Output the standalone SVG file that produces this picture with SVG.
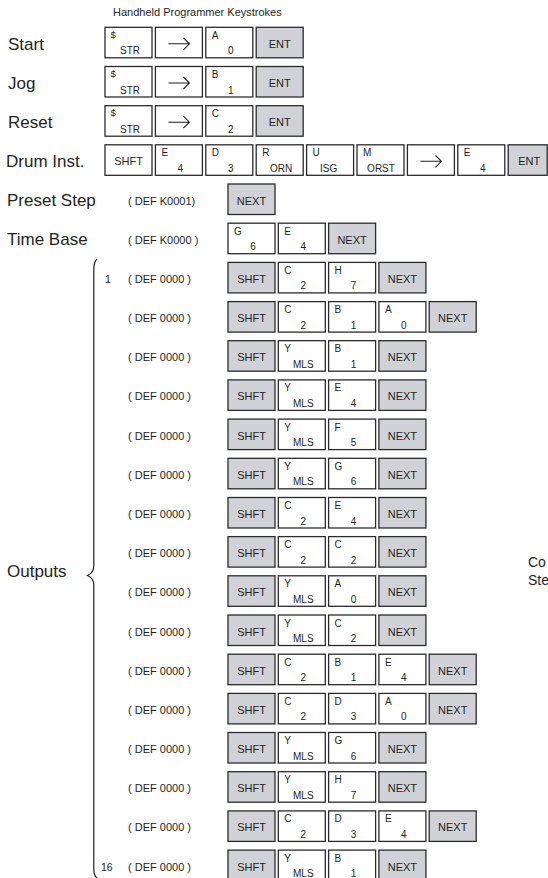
<svg xmlns="http://www.w3.org/2000/svg" width="548" height="878" viewBox="0 0 548 878">
<style>
text{font-family:"Liberation Sans",Arial,sans-serif;fill:#231f20}
.kw{fill:#ffffff;stroke:#2b2b2b;stroke-width:1.3}
.kg{fill:#d0d2d7;stroke:#2b2b2b;stroke-width:1.3}
.c{font-size:11px;text-anchor:middle}
.l{font-size:10px}
.d{font-size:10px;text-anchor:middle}
.s{font-size:9.5px}
.lab{font-size:17px}
.def{font-size:11px}
.num{font-size:10.5px}
.arr{fill:none;stroke:#231f20;stroke-width:1.1}
.brace{fill:none;stroke:#231f20;stroke-width:1.2}
</style>
<text x="113" y="16" style="font-size:11px">Handheld Programmer Keystrokes</text>

<g id="labels">
<text class="lab" x="8" y="49.5">Start</text>
<text class="lab" x="8" y="88.5">Jog</text>
<text class="lab" x="8" y="127.7">Reset</text>
<text class="lab" x="6" y="166.8">Drum Inst.</text>
<text class="lab" x="7" y="206">Preset Step</text>
<text class="lab" x="7" y="245.2">Time Base</text>
<text class="lab" x="7" y="577">Outputs</text>
<text x="528" y="567" style="font-size:14px">Co</text>
<text x="528" y="585" style="font-size:14px">Ste</text>
</g>

<g id="brace"><path class="brace" d="M97,259 C94.5,261 93.8,264 93.8,270 L93.8,566 C93.8,571 91,574 87.5,575.5 C91,577 93.8,580 93.8,585 L93.8,870 C93.8,874 94.5,876 97,878"/></g>
<g id="connectors"></g>

<!-- Start -->
<g id="start">
<g id="start-k1" transform="translate(105,27.3)"><rect class="kw" width="47" height="30.5"/><text class="s" x="5.5" y="10.5">$</text><text class="d" x="25" y="27">STR</text></g>
<g id="start-k2" transform="translate(155.4,27.3)"><rect class="kw" width="47" height="30.5"/><path class="arr" d="M13,16.5 H34 M28,10.5 L34,16.5 L28,22.5"/></g>
<g id="start-k3" transform="translate(205.8,27.3)"><rect class="kw" width="47" height="30.5"/><text class="l" x="6" y="11.5">A</text><text class="d" x="25" y="27">0</text></g>
<g id="start-k4" transform="translate(256.2,27.3)"><rect class="kg" width="47" height="30.5"/><text class="c" x="23.5" y="20.5">ENT</text></g>
</g>
<!-- Jog -->
<g id="jog">
<g id="jog-k1" transform="translate(105,66.5)"><rect class="kw" width="47" height="30.5"/><text class="s" x="5.5" y="10.5">$</text><text class="d" x="25" y="27">STR</text></g>
<g id="jog-k2" transform="translate(155.4,66.5)"><rect class="kw" width="47" height="30.5"/><path class="arr" d="M13,16.5 H34 M28,10.5 L34,16.5 L28,22.5"/></g>
<g id="jog-k3" transform="translate(205.8,66.5)"><rect class="kw" width="47" height="30.5"/><text class="l" x="6" y="11.5">B</text><text class="d" x="25" y="27">1</text></g>
<g id="jog-k4" transform="translate(256.2,66.5)"><rect class="kg" width="47" height="30.5"/><text class="c" x="23.5" y="20.5">ENT</text></g>
</g>
<!-- Reset -->
<g id="reset">
<g id="reset-k1" transform="translate(105,105.7)"><rect class="kw" width="47" height="30.5"/><text class="s" x="5.5" y="10.5">$</text><text class="d" x="25" y="27">STR</text></g>
<g id="reset-k2" transform="translate(155.4,105.7)"><rect class="kw" width="47" height="30.5"/><path class="arr" d="M13,16.5 H34 M28,10.5 L34,16.5 L28,22.5"/></g>
<g id="reset-k3" transform="translate(205.8,105.7)"><rect class="kw" width="47" height="30.5"/><text class="l" x="6" y="11.5">C</text><text class="d" x="25" y="27">2</text></g>
<g id="reset-k4" transform="translate(256.2,105.7)"><rect class="kg" width="47" height="30.5"/><text class="c" x="23.5" y="20.5">ENT</text></g>
</g>
<!-- Drum Inst -->
<g id="drum">
<g id="drum-k1" transform="translate(105,144.8)"><rect class="kw" width="47" height="30.5"/><text class="c" x="23.5" y="20.5">SHFT</text></g>
<g id="drum-k2" transform="translate(155.4,144.8)"><rect class="kw" width="47" height="30.5"/><text class="l" x="6" y="11.5">E</text><text class="d" x="25" y="27">4</text></g>
<g id="drum-k3" transform="translate(205.8,144.8)"><rect class="kw" width="47" height="30.5"/><text class="l" x="6" y="11.5">D</text><text class="d" x="25" y="27">3</text></g>
<g id="drum-k4" transform="translate(256.2,144.8)"><rect class="kw" width="47" height="30.5"/><text class="l" x="6" y="11.5">R</text><text class="d" x="25" y="27">ORN</text></g>
<g id="drum-k5" transform="translate(306.6,144.8)"><rect class="kw" width="47" height="30.5"/><text class="l" x="6" y="11.5">U</text><text class="d" x="22" y="27">ISG</text></g>
<g id="drum-k6" transform="translate(357,144.8)"><rect class="kw" width="47" height="30.5"/><text class="l" x="6" y="11.5">M</text><text class="d" x="24" y="27">ORST</text></g>
<g id="drum-k7" transform="translate(407.4,144.8)"><rect class="kw" width="47" height="30.5"/><path class="arr" d="M13,16.5 H34 M28,10.5 L34,16.5 L28,22.5"/></g>
<g id="drum-k8" transform="translate(457.8,144.8)"><rect class="kw" width="47" height="30.5"/><text class="l" x="6" y="11.5">E</text><text class="d" x="25" y="27">4</text></g>
<g id="drum-k9" transform="translate(508.2,144.8)"><rect class="kg" width="39" height="30.5"/><text class="c" x="21" y="20.5">ENT</text></g>
</g>
<!-- Preset Step -->
<g id="preset">
<text class="def" x="128" y="204.5">( DEF K0001)</text>
<g id="preset-k1" transform="translate(228,184)"><rect class="kg" width="47" height="30.5"/><text class="c" x="23.5" y="20.5">NEXT</text></g>
</g>
<!-- Time Base -->
<g id="timebase">
<text class="def" x="128" y="243.7">( DEF K0000 )</text>
<g id="tb-k1" transform="translate(228,223.2)"><rect class="kw" width="47" height="30.5"/><text class="l" x="6" y="11.5">G</text><text class="d" x="25" y="27">6</text></g>
<g id="tb-k2" transform="translate(278.3,223.2)"><rect class="kw" width="47" height="30.5"/><text class="l" x="6" y="11.5">E</text><text class="d" x="25" y="27">4</text></g>
<g id="tb-k3" transform="translate(328.6,223.2)"><rect class="kg" width="47" height="30.5"/><text class="c" x="23.5" y="20.5">NEXT</text></g>
</g>

<!-- Outputs -->
<g id="out1">
<text class="num" x="105" y="282.5">1</text>
<text class="def" x="128" y="282.9">( DEF 0000 )</text>
<g id="o1-k1" transform="translate(228,262.4)"><rect class="kg" width="47" height="30.5"/><text class="c" x="23.5" y="20.5">SHFT</text></g>
<g id="o1-k2" transform="translate(278.3,262.4)"><rect class="kw" width="47" height="30.5"/><text class="l" x="6" y="11.5">C</text><text class="d" x="25" y="27">2</text></g>
<g id="o1-k3" transform="translate(328.6,262.4)"><rect class="kw" width="47" height="30.5"/><text class="l" x="6" y="11.5">H</text><text class="d" x="25" y="27">7</text></g>
<g id="o1-k4" transform="translate(378.9,262.4)"><rect class="kg" width="47" height="30.5"/><text class="c" x="23.5" y="20.5">NEXT</text></g>
</g>
<g id="out2">
<text class="def" x="128" y="322.1">( DEF 0000 )</text>
<g id="o2-k1" transform="translate(228,301.6)"><rect class="kg" width="47" height="30.5"/><text class="c" x="23.5" y="20.5">SHFT</text></g>
<g id="o2-k2" transform="translate(278.3,301.6)"><rect class="kw" width="47" height="30.5"/><text class="l" x="6" y="11.5">C</text><text class="d" x="25" y="27">2</text></g>
<g id="o2-k3" transform="translate(328.6,301.6)"><rect class="kw" width="47" height="30.5"/><text class="l" x="6" y="11.5">B</text><text class="d" x="25" y="27">1</text></g>
<g id="o2-k4" transform="translate(378.9,301.6)"><rect class="kw" width="47" height="30.5"/><text class="l" x="6" y="11.5">A</text><text class="d" x="25" y="27">0</text></g>
<g id="o2-k5" transform="translate(429.2,301.6)"><rect class="kg" width="47" height="30.5"/><text class="c" x="23.5" y="20.5">NEXT</text></g>
</g>
<g id="out3">
<text class="def" x="128" y="361.2">( DEF 0000 )</text>
<g id="o3-k1" transform="translate(228,340.7)"><rect class="kg" width="47" height="30.5"/><text class="c" x="23.5" y="20.5">SHFT</text></g>
<g id="o3-k2" transform="translate(278.3,340.7)"><rect class="kw" width="47" height="30.5"/><text class="l" x="6" y="11.5">Y</text><text class="d" x="25" y="27">MLS</text></g>
<g id="o3-k3" transform="translate(328.6,340.7)"><rect class="kw" width="47" height="30.5"/><text class="l" x="6" y="11.5">B</text><text class="d" x="25" y="27">1</text></g>
<g id="o3-k4" transform="translate(378.9,340.7)"><rect class="kg" width="47" height="30.5"/><text class="c" x="23.5" y="20.5">NEXT</text></g>
</g>
<g id="out4">
<text class="def" x="128" y="400.4">( DEF 0000 )</text>
<g id="o4-k1" transform="translate(228,379.9)"><rect class="kg" width="47" height="30.5"/><text class="c" x="23.5" y="20.5">SHFT</text></g>
<g id="o4-k2" transform="translate(278.3,379.9)"><rect class="kw" width="47" height="30.5"/><text class="l" x="6" y="11.5">Y</text><text class="d" x="25" y="27">MLS</text></g>
<g id="o4-k3" transform="translate(328.6,379.9)"><rect class="kw" width="47" height="30.5"/><text class="l" x="6" y="11.5">E</text><text class="d" x="25" y="27">4</text></g>
<g id="o4-k4" transform="translate(378.9,379.9)"><rect class="kg" width="47" height="30.5"/><text class="c" x="23.5" y="20.5">NEXT</text></g>
</g>
<g id="out5">
<text class="def" x="128" y="439.6">( DEF 0000 )</text>
<g id="o5-k1" transform="translate(228,419.1)"><rect class="kg" width="47" height="30.5"/><text class="c" x="23.5" y="20.5">SHFT</text></g>
<g id="o5-k2" transform="translate(278.3,419.1)"><rect class="kw" width="47" height="30.5"/><text class="l" x="6" y="11.5">Y</text><text class="d" x="25" y="27">MLS</text></g>
<g id="o5-k3" transform="translate(328.6,419.1)"><rect class="kw" width="47" height="30.5"/><text class="l" x="6" y="11.5">F</text><text class="d" x="25" y="27">5</text></g>
<g id="o5-k4" transform="translate(378.9,419.1)"><rect class="kg" width="47" height="30.5"/><text class="c" x="23.5" y="20.5">NEXT</text></g>
</g>
<g id="out6">
<text class="def" x="128" y="478.8">( DEF 0000 )</text>
<g id="o6-k1" transform="translate(228,458.3)"><rect class="kg" width="47" height="30.5"/><text class="c" x="23.5" y="20.5">SHFT</text></g>
<g id="o6-k2" transform="translate(278.3,458.3)"><rect class="kw" width="47" height="30.5"/><text class="l" x="6" y="11.5">Y</text><text class="d" x="25" y="27">MLS</text></g>
<g id="o6-k3" transform="translate(328.6,458.3)"><rect class="kw" width="47" height="30.5"/><text class="l" x="6" y="11.5">G</text><text class="d" x="25" y="27">6</text></g>
<g id="o6-k4" transform="translate(378.9,458.3)"><rect class="kg" width="47" height="30.5"/><text class="c" x="23.5" y="20.5">NEXT</text></g>
</g>
<g id="out7">
<text class="def" x="128" y="518">( DEF 0000 )</text>
<g id="o7-k1" transform="translate(228,497.5)"><rect class="kg" width="47" height="30.5"/><text class="c" x="23.5" y="20.5">SHFT</text></g>
<g id="o7-k2" transform="translate(278.3,497.5)"><rect class="kw" width="47" height="30.5"/><text class="l" x="6" y="11.5">C</text><text class="d" x="25" y="27">2</text></g>
<g id="o7-k3" transform="translate(328.6,497.5)"><rect class="kw" width="47" height="30.5"/><text class="l" x="6" y="11.5">E</text><text class="d" x="25" y="27">4</text></g>
<g id="o7-k4" transform="translate(378.9,497.5)"><rect class="kg" width="47" height="30.5"/><text class="c" x="23.5" y="20.5">NEXT</text></g>
</g>
<g id="out8">
<text class="def" x="128" y="557.1">( DEF 0000 )</text>
<g id="o8-k1" transform="translate(228,536.6)"><rect class="kg" width="47" height="30.5"/><text class="c" x="23.5" y="20.5">SHFT</text></g>
<g id="o8-k2" transform="translate(278.3,536.6)"><rect class="kw" width="47" height="30.5"/><text class="l" x="6" y="11.5">C</text><text class="d" x="25" y="27">2</text></g>
<g id="o8-k3" transform="translate(328.6,536.6)"><rect class="kw" width="47" height="30.5"/><text class="l" x="6" y="11.5">C</text><text class="d" x="25" y="27">2</text></g>
<g id="o8-k4" transform="translate(378.9,536.6)"><rect class="kg" width="47" height="30.5"/><text class="c" x="23.5" y="20.5">NEXT</text></g>
</g>
<g id="out9">
<text class="def" x="128" y="596.3">( DEF 0000 )</text>
<g id="o9-k1" transform="translate(228,575.8)"><rect class="kg" width="47" height="30.5"/><text class="c" x="23.5" y="20.5">SHFT</text></g>
<g id="o9-k2" transform="translate(278.3,575.8)"><rect class="kw" width="47" height="30.5"/><text class="l" x="6" y="11.5">Y</text><text class="d" x="25" y="27">MLS</text></g>
<g id="o9-k3" transform="translate(328.6,575.8)"><rect class="kw" width="47" height="30.5"/><text class="l" x="6" y="11.5">A</text><text class="d" x="25" y="27">0</text></g>
<g id="o9-k4" transform="translate(378.9,575.8)"><rect class="kg" width="47" height="30.5"/><text class="c" x="23.5" y="20.5">NEXT</text></g>
</g>
<g id="out10">
<text class="def" x="128" y="635.5">( DEF 0000 )</text>
<g id="o10-k1" transform="translate(228,615)"><rect class="kg" width="47" height="30.5"/><text class="c" x="23.5" y="20.5">SHFT</text></g>
<g id="o10-k2" transform="translate(278.3,615)"><rect class="kw" width="47" height="30.5"/><text class="l" x="6" y="11.5">Y</text><text class="d" x="25" y="27">MLS</text></g>
<g id="o10-k3" transform="translate(328.6,615)"><rect class="kw" width="47" height="30.5"/><text class="l" x="6" y="11.5">C</text><text class="d" x="25" y="27">2</text></g>
<g id="o10-k4" transform="translate(378.9,615)"><rect class="kg" width="47" height="30.5"/><text class="c" x="23.5" y="20.5">NEXT</text></g>
</g>
<g id="out11">
<text class="def" x="128" y="674.7">( DEF 0000 )</text>
<g id="o11-k1" transform="translate(228,654.2)"><rect class="kg" width="47" height="30.5"/><text class="c" x="23.5" y="20.5">SHFT</text></g>
<g id="o11-k2" transform="translate(278.3,654.2)"><rect class="kw" width="47" height="30.5"/><text class="l" x="6" y="11.5">C</text><text class="d" x="25" y="27">2</text></g>
<g id="o11-k3" transform="translate(328.6,654.2)"><rect class="kw" width="47" height="30.5"/><text class="l" x="6" y="11.5">B</text><text class="d" x="25" y="27">1</text></g>
<g id="o11-k4" transform="translate(378.9,654.2)"><rect class="kw" width="47" height="30.5"/><text class="l" x="6" y="11.5">E</text><text class="d" x="25" y="27">4</text></g>
<g id="o11-k5" transform="translate(429.2,654.2)"><rect class="kg" width="47" height="30.5"/><text class="c" x="23.5" y="20.5">NEXT</text></g>
</g>
<g id="out12">
<text class="def" x="128" y="713.9">( DEF 0000 )</text>
<g id="o12-k1" transform="translate(228,693.4)"><rect class="kg" width="47" height="30.5"/><text class="c" x="23.5" y="20.5">SHFT</text></g>
<g id="o12-k2" transform="translate(278.3,693.4)"><rect class="kw" width="47" height="30.5"/><text class="l" x="6" y="11.5">C</text><text class="d" x="25" y="27">2</text></g>
<g id="o12-k3" transform="translate(328.6,693.4)"><rect class="kw" width="47" height="30.5"/><text class="l" x="6" y="11.5">D</text><text class="d" x="25" y="27">3</text></g>
<g id="o12-k4" transform="translate(378.9,693.4)"><rect class="kw" width="47" height="30.5"/><text class="l" x="6" y="11.5">A</text><text class="d" x="25" y="27">0</text></g>
<g id="o12-k5" transform="translate(429.2,693.4)"><rect class="kg" width="47" height="30.5"/><text class="c" x="23.5" y="20.5">NEXT</text></g>
</g>
<g id="out13">
<text class="def" x="128" y="753">( DEF 0000 )</text>
<g id="o13-k1" transform="translate(228,732.5)"><rect class="kg" width="47" height="30.5"/><text class="c" x="23.5" y="20.5">SHFT</text></g>
<g id="o13-k2" transform="translate(278.3,732.5)"><rect class="kw" width="47" height="30.5"/><text class="l" x="6" y="11.5">Y</text><text class="d" x="25" y="27">MLS</text></g>
<g id="o13-k3" transform="translate(328.6,732.5)"><rect class="kw" width="47" height="30.5"/><text class="l" x="6" y="11.5">G</text><text class="d" x="25" y="27">6</text></g>
<g id="o13-k4" transform="translate(378.9,732.5)"><rect class="kg" width="47" height="30.5"/><text class="c" x="23.5" y="20.5">NEXT</text></g>
</g>
<g id="out14">
<text class="def" x="128" y="792.2">( DEF 0000 )</text>
<g id="o14-k1" transform="translate(228,771.7)"><rect class="kg" width="47" height="30.5"/><text class="c" x="23.5" y="20.5">SHFT</text></g>
<g id="o14-k2" transform="translate(278.3,771.7)"><rect class="kw" width="47" height="30.5"/><text class="l" x="6" y="11.5">Y</text><text class="d" x="25" y="27">MLS</text></g>
<g id="o14-k3" transform="translate(328.6,771.7)"><rect class="kw" width="47" height="30.5"/><text class="l" x="6" y="11.5">H</text><text class="d" x="25" y="27">7</text></g>
<g id="o14-k4" transform="translate(378.9,771.7)"><rect class="kg" width="47" height="30.5"/><text class="c" x="23.5" y="20.5">NEXT</text></g>
</g>
<g id="out15">
<text class="def" x="128" y="831.4">( DEF 0000 )</text>
<g id="o15-k1" transform="translate(228,810.9)"><rect class="kg" width="47" height="30.5"/><text class="c" x="23.5" y="20.5">SHFT</text></g>
<g id="o15-k2" transform="translate(278.3,810.9)"><rect class="kw" width="47" height="30.5"/><text class="l" x="6" y="11.5">C</text><text class="d" x="25" y="27">2</text></g>
<g id="o15-k3" transform="translate(328.6,810.9)"><rect class="kw" width="47" height="30.5"/><text class="l" x="6" y="11.5">D</text><text class="d" x="25" y="27">3</text></g>
<g id="o15-k4" transform="translate(378.9,810.9)"><rect class="kw" width="47" height="30.5"/><text class="l" x="6" y="11.5">E</text><text class="d" x="25" y="27">4</text></g>
<g id="o15-k5" transform="translate(429.2,810.9)"><rect class="kg" width="47" height="30.5"/><text class="c" x="23.5" y="20.5">NEXT</text></g>
</g>
<g id="out16">
<text class="num" x="101" y="870.5">16</text>
<text class="def" x="128" y="870.6">( DEF 0000 )</text>
<g id="o16-k1" transform="translate(228,850.1)"><rect class="kg" width="47" height="30.5"/><text class="c" x="23.5" y="20.5">SHFT</text></g>
<g id="o16-k2" transform="translate(278.3,850.1)"><rect class="kw" width="47" height="30.5"/><text class="l" x="6" y="11.5">Y</text><text class="d" x="25" y="27">MLS</text></g>
<g id="o16-k3" transform="translate(328.6,850.1)"><rect class="kw" width="47" height="30.5"/><text class="l" x="6" y="11.5">B</text><text class="d" x="25" y="27">1</text></g>
<g id="o16-k4" transform="translate(378.9,850.1)"><rect class="kg" width="47" height="30.5"/><text class="c" x="23.5" y="20.5">NEXT</text></g>
</g>
</svg>
